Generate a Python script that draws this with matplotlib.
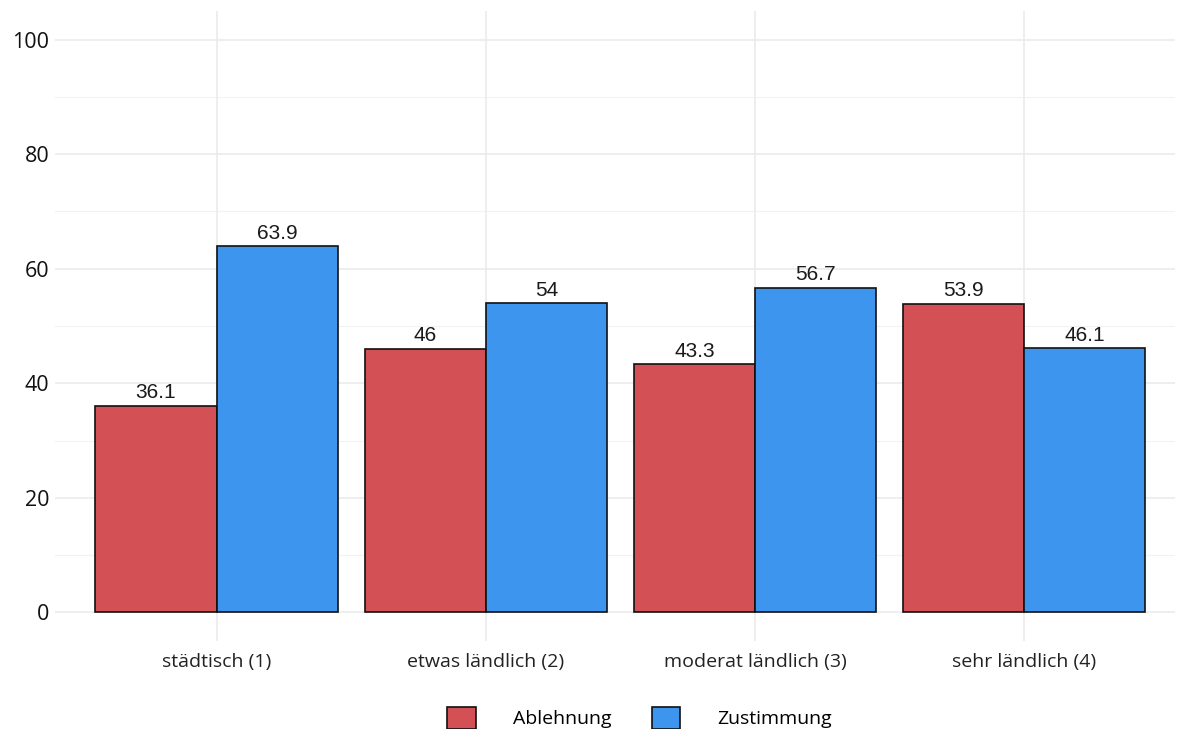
import matplotlib
matplotlib.use("Agg")
import matplotlib.pyplot as plt
import numpy as np
from matplotlib.patches import Patch

categories = ["städtisch (1)", "etwas ländlich (2)", "moderat ländlich (3)", "sehr ländlich (4)"]
series_names = ["Ablehnung", "Zustimmung"]
ablehnung = [36.1, 46, 43.3, 53.9]
zustimmung = [63.9, 54, 56.7, 46.1]
y_ticks = [0, 20, 40, 60, 80, 100]
colors = ["#D35155", "#3D95EE"]

W, H = 1180, 729
fig = plt.figure(figsize=(W / 100, H / 100), dpi=100)
left, right, top, bottom = 55, 1175, 11, 641
ax = fig.add_axes([left / W, 1 - bottom / H, (right - left) / W, (bottom - top) / H])

x = np.arange(1, len(categories) + 1)
bw = 0.45
ax.set_xlim(0.4, 0.4 + (right - left) / 269.2)
ax.set_ylim(-5, 105)

# grid
for v in y_ticks:
    ax.axhline(v, color="#EBEBEB", lw=1.2, zorder=0)
for v in range(10, 100, 20):
    ax.axhline(v, color="#F2F2F2", lw=0.8, zorder=0)
for xi in x:
    ax.axvline(xi, color="#EBEBEB", lw=1.2, zorder=0)

vals = [ablehnung, zustimmung]
for i, (name, data) in enumerate(zip(series_names, vals)):
    xs = x - bw / 2 + i * bw
    ax.bar(xs, data, width=bw, color=colors[i], edgecolor="#111111", linewidth=1.2, zorder=2)
    for xx, v in zip(xs, data):
        ax.annotate(f"{v:g}", (xx, v), xytext=(0, 2.5), textcoords="offset points",
                    ha="center", va="bottom", fontsize=15, family="Liberation Sans", color="#1a1a1a")

ax.set_xticks(x)
ax.set_xticklabels(categories, fontsize=14, family="Open Sans", color="#222222")
ax.set_yticks(y_ticks)
ax.set_yticklabels([str(t) for t in y_ticks], fontsize=15.5, family="Open Sans", color="#111111")
ax.tick_params(length=0)
ax.tick_params(axis="x", pad=9)
ax.tick_params(axis="y", pad=4)
for s in ax.spines.values():
    s.set_visible(False)

handles = [Patch(facecolor=c, edgecolor="#111111", linewidth=1.2) for c in colors]
fig.legend(handles, series_names, loc="center", bbox_to_anchor=(639.5 / W, 1 - 718 / H),
           ncol=2, frameon=False, prop={"family": "Open Sans", "size": 14},
           handlelength=1.45, handleheight=1.35, handletextpad=1.9, columnspacing=2.1)

fig.savefig("out.png", dpi=100)
